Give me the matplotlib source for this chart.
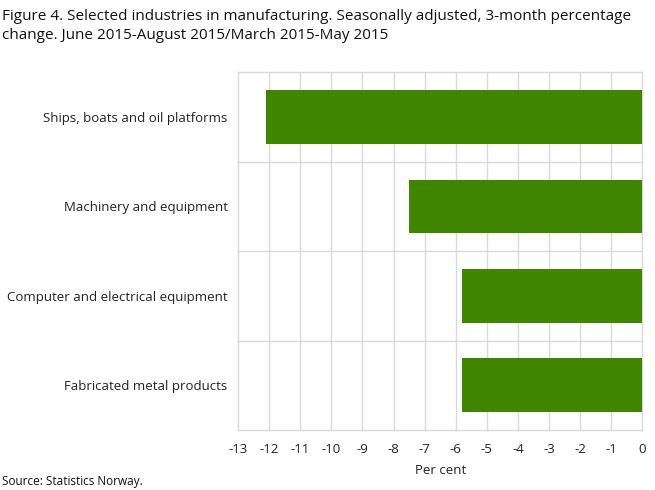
import numpy as np
import matplotlib.pyplot as plt

# data
industries = ['Ships, boats and oil platforms', 'Machinery and equipment',
              'Computer and electrical equipment', 'Fabricated metal products']
change = [-12.1, -7.5, -5.8, -5.8]
xticks = list(range(-13, 1))

plt.rcParams['font.family'] = ['Open Sans', 'DejaVu Sans']

fig = plt.figure(figsize=(6.55, 4.9), dpi=100)
ax = fig.add_axes([0.3634, 0.1224, 0.6172, 0.73])

pos = np.arange(len(industries))
ax.barh(pos, change, height=0.6, color='#3f8500', zorder=3)

ax.set_xlim(-13, 0)
ax.set_ylim(len(industries) - 0.5, -0.5)
ax.set_xticks(xticks)
ax.set_xticklabels([str(t) for t in xticks])
ax.set_yticks(pos)
ax.set_yticklabels(industries)

# vertical grid at every tick, horizontal lines between categories
ax.grid(axis='x', color='#d9d9d9', linewidth=1, zorder=0)
for g in ax.get_xgridlines():
    g.set_clip_on(False)
for y in np.arange(-0.5, len(industries)):
    ax.axhline(y, color='#d9d9d9', linewidth=1, zorder=0, clip_on=False)

for s in ax.spines.values():
    s.set_visible(False)
ax.tick_params(which='both', length=0)
ax.tick_params(axis='y', pad=7.5, labelsize=9.5, colors='#222222')
ax.tick_params(axis='x', pad=9, labelsize=9.5, colors='#222222')

ax.set_xlabel('Per cent', fontsize=9.5, color='#222222', labelpad=6)

fig.text(0.003, 0.982, 'Figure 4. Selected industries in manufacturing. Seasonally adjusted, 3-month percentage\n'
         'change. June 2015-August 2015/March 2015-May 2015',
         ha='left', va='top', fontsize=11, linespacing=1.4, color='#111111')
fig.text(0.003, 0.005, 'Source: Statistics Norway.', ha='left', va='bottom', fontsize=8.5, color='#111111')

fig.savefig('out.png', dpi=100)
